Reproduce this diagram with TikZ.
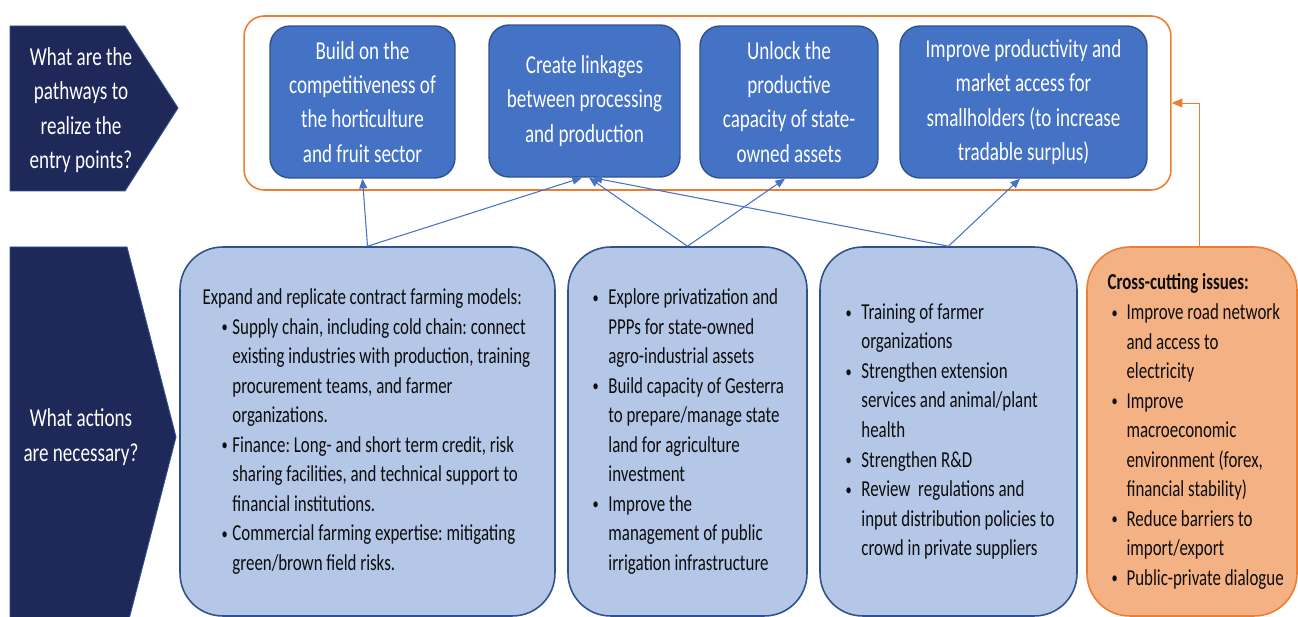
\documentclass[tikz,border=0pt]{standalone}
\usepackage{fontspec}
\setmainfont{Carlito}[FakeStretch=0.74]
\usetikzlibrary{arrows.meta,positioning}
\frenchspacing

\definecolor{navy}{RGB}{31,41,89}
\definecolor{boxblue}{RGB}{68,114,196}
\definecolor{boxedge}{RGB}{47,82,143}
\definecolor{lightblue}{RGB}{180,199,231}
\definecolor{crossorange}{RGB}{237,125,49}
\definecolor{crossfill}{RGB}{244,177,131}
\definecolor{textdark}{RGB}{13,13,13}

\newcommand{\itm}[1][9pt]{\makebox[#1][l]{\raisebox{0.8pt}{\fontsize{9.5}{9.5}\selectfont\textbullet}}}
\newcommand{\ind}[1][9pt]{\hspace*{#1}}

\tikzset{
  pathbox/.style={draw=boxedge, fill=boxblue, line width=0.8pt, rounded corners=0.4cm,
    minimum height=3.04cm, inner sep=2pt, text=white, align=center,
    font=\fontsize{14.7}{19.5}\selectfont},
  actbox/.style={draw=boxedge, fill=lightblue, line width=0.9pt, rounded corners=0.85cm,
    minimum height=7.38cm},
  acttext/.style={anchor=west, align=left, inner sep=0pt, text=textdark,
    font=\fontsize{13}{16.8}\selectfont},
  qtext/.style={text=white, align=center, font=\fontsize{14.7}{19.5}\selectfont},
}

\begin{document}
\begin{tikzpicture}[x=0.02cm, y=-0.02cm]
  \clip (0,0) rectangle (1298,617);

  % question arrows on the left
  \filldraw[fill=navy, draw=boxedge, line width=0.5pt]
    (10,26) -- (125,26) -- (178,108) -- (125,191) -- (10,191) -- cycle;
  \filldraw[fill=navy, draw=boxedge, line width=0.5pt]
    (10,247) -- (127,247) -- (176,437) -- (127,627) -- (10,627) -- cycle;
  \node[qtext] (q1) at (81,110) {What are the\\pathways to\\realize the\\entry points?};
  \node[qtext] (q2) at (81,437) {What actions\\are necessary?};

  % pathways
  \node[draw=crossorange, line width=0.9pt, rounded corners=0.4cm,
    minimum width=18.54cm, minimum height=3.48cm] (outer) at (707.5,103) {};
  \begin{scope}[every node/.style={pathbox}]
    \node[minimum width=3.7cm] (p1) at (362.5,102) {Build on the\\competitiveness of\\the horticulture\\and fruit sector};
    \node[minimum width=3.82cm] (p2) at (584.5,101) {Create linkages\\between processing\\and production};
    \node[minimum width=3.56cm] (p3) at (789,102) {Unlock the\\productive\\capacity of state-\\owned assets};
    \node[minimum width=4.94cm] (p4) at (1023.5,102) {Improve productivity and\\market access for\\smallholders (to increase\\tradable surplus)};
  \end{scope}

  % actions
  \node[actbox, minimum width=7.5cm] (b1) at (367.5,431.5) {};
  \node[actbox, minimum width=4.78cm] (b2) at (687.5,431.5) {};
  \node[actbox, minimum width=5.14cm] (b3) at (948.5,431.5) {};
  \node[actbox, draw=crossorange, fill=crossfill, minimum width=4.2cm] (b4) at (1192,431.5) {};

  \node[acttext] (b1txt) at ([xshift=0.46cm]b1.west) {%
    Expand and replicate contract farming models:\\
    \ind[10.8pt]\itm[6.2pt]Supply chain, including cold chain: connect\\
    \ind[17pt]existing industries with production, training\\
    \ind[17pt]procurement teams, and farmer\\
    \ind[17pt]organizations.\\
    \ind[10.8pt]\itm[6.2pt]Finance: Long- and short term credit, risk\\
    \ind[17pt]sharing facilities, and technical support to\\
    \ind[17pt]financial institutions.\\
    \ind[10.8pt]\itm[6.2pt]Commercial farming expertise: mitigating\\
    \ind[17pt]green/brown field risks.};
  \node[acttext] (b2txt) at ([xshift=0.5cm]b2.west) {%
    \itm Explore privatization and\\
    \ind PPPs for state-owned\\
    \ind agro-industrial assets\\
    \itm Build capacity of Gesterra\\
    \ind to prepare/manage state\\
    \ind land for agriculture\\
    \ind investment\\
    \itm Improve the\\
    \ind management of public\\
    \ind irrigation infrastructure};
  \node[acttext] (b3txt) at ([xshift=0.52cm]b3.west) {%
    \itm Training of farmer\\
    \ind organizations\\
    \itm Strengthen extension\\
    \ind services and animal/plant\\
    \ind health\\
    \itm Strengthen R\&D\\
    \itm Review\ \ regulations and\\
    \ind input distribution policies to\\
    \ind crowd in private suppliers};
  \node[acttext] (b4txt) at ([xshift=0.42cm]b4.west) {%
    \textbf{Cross-cutting issues:}\\
    \ind[2.3pt]\itm[8.5pt]Improve road network\\
    \ind[10.8pt]and access to\\
    \ind[10.8pt]electricity\\
    \ind[2.3pt]\itm[8.5pt]Improve\\
    \ind[10.8pt]macroeconomic\\
    \ind[10.8pt]environment (forex,\\
    \ind[10.8pt]financial stability)\\
    \ind[2.3pt]\itm[8.5pt]Reduce barriers to\\
    \ind[10.8pt]import/export\\
    \ind[2.3pt]\itm[8.5pt]Public-private dialogue};

  % links
  \begin{scope}[every edge/.style={draw=boxblue, line width=0.6pt}]
    \path[-{Triangle[length=5.5pt,width=4.5pt]}] (b1.north) edge (p1.south);
    \path[-{Triangle[length=5.5pt,width=4.5pt]}] (b1.north) edge ([xshift=-0.05cm]p2.south);
    \path[-{Triangle[length=5.5pt,width=4.5pt]}] (b2.north) edge ([xshift=0.09cm]p2.south);
    \path[-{Triangle[length=5.5pt,width=4.5pt]}] (b2.north) edge ([xshift=-0.08cm]p3.south);
    \path[-{Triangle[length=5.5pt,width=4.5pt]}] (b3.north) edge ([xshift=0.16cm]p2.south);
    \path[-{Triangle[length=5.5pt,width=4.5pt]}] (b3.north) edge ([xshift=-0.07cm]p4.south);
  \end{scope}
  \draw[crossorange, line width=0.5pt, -{Triangle[length=6pt,width=5pt]}]
    ([xshift=0.14cm]b4.north) |- (outer.east);
\end{tikzpicture}
\end{document}
